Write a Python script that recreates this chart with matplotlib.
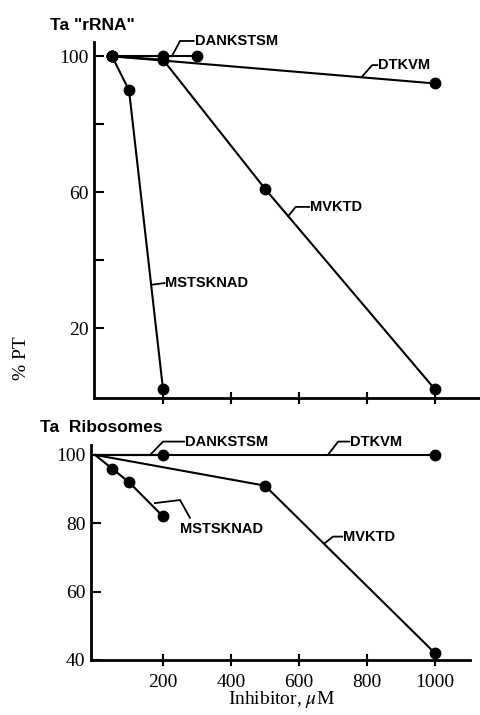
import matplotlib
matplotlib.use('Agg')
import matplotlib.pyplot as plt

plt.rcParams['mathtext.fontset'] = 'stix'

# ---- data (inhibitor uM vs % PT) ----
top_dankstsm_x = [50, 200, 300]
top_dankstsm_y = [100, 100, 100]
top_dtkvm_x = [50, 1000]
top_dtkvm_y = [100, 92]
top_mvktd_x = [50, 200, 500, 1000]
top_mvktd_y = [100, 99, 61, 2]
top_mstsknad_x = [50, 100, 200]
top_mstsknad_y = [100, 90, 2]

bot_dankstsm_x = [0, 200]
bot_dankstsm_y = [100, 100]
bot_dtkvm_x = [0, 1000]
bot_dtkvm_y = [100, 100]
bot_mvktd_x = [0, 500, 1000]
bot_mvktd_y = [100, 91, 42]
bot_mstsknad_x = [0, 50, 100, 200]
bot_mstsknad_y = [100, 96, 92, 82]

x_ticks = [200, 400, 600, 800, 1000]
top_y_ticks = [20, 40, 60, 80, 100]
top_y_labels = ['20', '', '60', '', '100']
bot_y_ticks = [40, 60, 80, 100]

SERIF = 'Liberation Serif'
SANS = 'Liberation Sans'
W, H = 480, 715

fig = plt.figure(figsize=(W / 100, H / 100), dpi=100, facecolor='white')


def px_axes(left, top, right, bottom):
    return fig.add_axes([left / W, 1 - bottom / H, (right - left) / W, (bottom - top) / H])


ax_top = px_axes(94, 42, 480, 398)
ax_bot = px_axes(91, 445, 470, 660)

line_kw = dict(color='black', linewidth=1.5, marker='o', markersize=7.5, clip_on=False)

ax_top.plot(top_dtkvm_x, top_dtkvm_y, **line_kw)
ax_top.plot(top_mvktd_x, top_mvktd_y, **line_kw)
ax_top.plot(top_mstsknad_x, top_mstsknad_y, **line_kw)
ax_top.plot(top_dankstsm_x, top_dankstsm_y, **line_kw)

# bottom series start at the axis with no dot for the zero point
ax_bot.plot(bot_dtkvm_x, bot_dtkvm_y, markevery=slice(1, None), **line_kw)
ax_bot.plot(bot_mvktd_x, bot_mvktd_y, markevery=slice(1, None), **line_kw)
ax_bot.plot(bot_mstsknad_x, bot_mstsknad_y, markevery=slice(1, None), **line_kw)
ax_bot.plot(bot_dankstsm_x, bot_dankstsm_y, markevery=slice(1, None), **line_kw)

ax_top.set_xlim(-3, 1132)
ax_top.set_ylim(-0.5, 104.2)
ax_bot.set_xlim(-12, 1103)
ax_bot.set_ylim(40, 102.9)


def leader(ax, pts):
    xs = [p[0] for p in pts]
    ys = [p[1] for p in pts]
    ax.plot(xs, ys, color='black', linewidth=1.3, clip_on=False)


def tag(ax, x, y, label):
    ax.text(x, y, label, fontsize=10.5, fontweight='bold', family=SANS,
            ha='left', va='center', clip_on=False)


# top panel labels
leader(ax_top, [(226, 100), (250, 104.5), (290, 104.5)])
tag(ax_top, 294, 104.5, 'DANKSTSM')
leader(ax_top, [(785, 94), (815, 97.4), (830, 97.4)])
tag(ax_top, 832, 97.4, 'DTKVM')
leader(ax_top, [(568, 53), (590, 55.7), (630, 55.7)])
tag(ax_top, 632, 55.7, 'MVKTD')
leader(ax_top, [(166, 32.8), (204, 33.3)])
tag(ax_top, 206, 33.3, 'MSTSKNAD')

# bottom panel labels
leader(ax_bot, [(162, 100), (200, 103.9), (262, 103.9)])
tag(ax_bot, 265, 103.9, 'DANKSTSM')
leader(ax_bot, [(685, 100), (715, 103.9), (748, 103.9)])
tag(ax_bot, 750, 103.9, 'DTKVM')
leader(ax_bot, [(676, 74.2), (700, 76.1), (727, 76.1)])
tag(ax_bot, 729, 76.1, 'MVKTD')
leader(ax_bot, [(176, 85.9), (250, 86.8), (279, 81.6)])
tag(ax_bot, 250, 78.3, 'MSTSKNAD')

for ax in (ax_top, ax_bot):
    ax.spines['top'].set_visible(False)
    ax.spines['right'].set_visible(False)
    ax.spines['left'].set_linewidth(2)
    ax.spines['bottom'].set_linewidth(2)
    ax.set_xticks(x_ticks)
    ax.tick_params(axis='x', direction='inout', length=8, width=1.5, pad=6)
    ax.tick_params(axis='y', direction='in', length=7, width=1.5, pad=4)

ax_top.set_yticks(top_y_ticks)
ax_top.set_yticklabels(top_y_labels, fontfamily=SERIF, fontsize=14)
ax_top.set_xticklabels([])
ax_bot.set_yticks(bot_y_ticks)
ax_bot.set_yticklabels([str(v) for v in bot_y_ticks], fontfamily=SERIF, fontsize=14)
ax_bot.set_xticklabels([str(v) for v in x_ticks], fontfamily=SERIF, fontsize=14)

# panel titles and axis labels
fig.text(50 / W, 1 - 25 / H, 'Ta "rRNA"', fontsize=12.5, fontweight='bold',
         family=SANS, ha='left', va='center')
fig.text(40 / W, 1 - 428 / H, 'Ta  Ribosomes', fontsize=12.5, fontweight='bold',
         family=SANS, ha='left', va='center')
fig.text(22 / W, 1 - 358 / H, '% PT', fontsize=14, family=SERIF,
         rotation=90, ha='center', va='center')
fig.text(282 / W, 1 - 700 / H, r'Inhibitor, $\mu$M', fontsize=14, family=SERIF,
         ha='center', va='center')

fig.savefig('out.png', dpi=100, facecolor='white')
